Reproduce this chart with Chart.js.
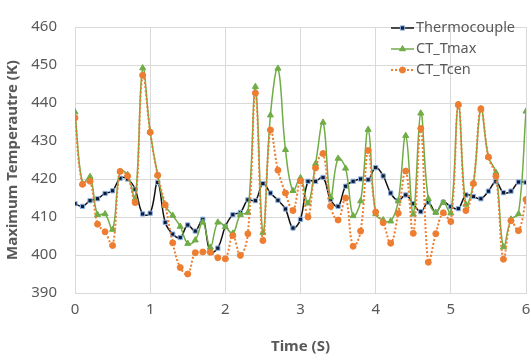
<!DOCTYPE html>
<html>
<head>
<meta charset="utf-8">
<script src="https://cdn.jsdelivr.net/npm/chart.js@4.4.1/dist/chart.umd.min.js"></script>
<style>
  html, body { margin: 0; padding: 0; background: #fff; }
  #wrap { width: 531px; height: 363px; }
</style>
</head>
<body>
<div id="wrap"><canvas id="tempChart" width="531" height="363"></canvas></div>
<script>
const time = [0, 0.1, 0.2, 0.3, 0.4, 0.5, 0.6, 0.7, 0.8, 0.9,
    1, 1.1, 1.2, 1.3, 1.4, 1.5, 1.6, 1.7, 1.8, 1.9,
    2, 2.1, 2.2, 2.3, 2.4, 2.5, 2.6, 2.7, 2.8, 2.9,
    3, 3.1, 3.2, 3.3, 3.4, 3.5, 3.6, 3.7, 3.8, 3.9,
    4, 4.1, 4.2, 4.3, 4.4, 4.5, 4.6, 4.7, 4.8, 4.9,
    5, 5.1, 5.2, 5.3, 5.4, 5.5, 5.6, 5.7, 5.8, 5.9, 6];

const thermocouple = [413.5, 412.8, 414.3, 414.8, 416.2, 416.9, 420.2, 420.0, 417.3, 410.8,
    411.0, 419.1, 408.6, 405.5, 404.6, 407.9, 406.3, 409.4, 400.8, 401.8,
    407.5, 410.6, 411.2, 414.5, 414.3, 418.8, 416.3, 414.4, 412.1, 407.1,
    409.4, 419.4, 419.4, 420.4, 414.6, 412.8, 418.1, 419.4, 420.0, 419.8,
    423.0, 420.8, 416.3, 414.3, 415.8, 413.5, 411.4, 413.9, 411.2, 413.9,
    412.7, 412.2, 415.8, 415.4, 414.8, 416.8, 419.3, 416.4, 416.8, 419.2, 419.1];

const ctTmax = [437.6, 418.8, 420.6, 410.6, 410.8, 406.7, 422.0, 421.1, 414.8, 449.2,
    432.5, 421.0, 413.0, 410.4, 407.5, 403.0, 403.9, 408.6, 402.0, 408.6,
    407.4, 405.7, 410.6, 411.2, 444.3, 405.9, 436.8, 449.1, 427.7, 416.9,
    420.3, 413.6, 424.0, 434.9, 415.2, 425.4, 422.8, 410.3, 414.2, 433.0,
    410.8, 409.2, 408.9, 414.2, 431.4, 410.7, 437.3, 414.8, 411.2, 413.8,
    411.0, 439.6, 413.3, 418.8, 438.4, 425.8, 421.7, 402.1, 409.4, 410.8, 437.8];

const ctTcen = [436.1, 418.6, 419.4, 408.1, 406.1, 402.5, 422.0, 420.8, 413.8, 447.3,
    432.3, 421.0, 413.2, 403.2, 396.7, 395.0, 400.6, 400.8, 400.7, 399.3,
    399.0, 405.1, 399.9, 405.6, 442.6, 403.8, 432.9, 422.3, 416.3, 411.7,
    419.5, 410.0, 422.9, 426.7, 412.8, 409.2, 415.0, 402.3, 406.3, 427.5,
    411.3, 408.5, 403.1, 411.0, 422.1, 405.7, 433.3, 398.1, 405.6, 411.1,
    408.8, 439.6, 411.7, 418.8, 438.5, 425.8, 420.7, 398.9, 409.0, 406.4, 414.6];

const seriesNames = ['Thermocouple', 'CT_Tmax', 'CT_Tcen'];

function toPoints(values) {
    return values.map((v, i) => ({ x: time[i], y: v }));
}

// legend drawn inside the plot, top right, like the Excel original
const insideLegend = {
    id: 'insideLegend',
    afterDraw(chart) {
        const ctx = chart.ctx;
        chart.data.datasets.forEach((ds, i) => {
            const y = 28 + i * 21;
            const x0 = 391, x1 = 414;
            ctx.save();
            ctx.strokeStyle = ds.borderColor;
            ctx.lineWidth = ds.borderWidth;
            ctx.setLineDash(ds.borderDash || []);
            ctx.beginPath();
            ctx.moveTo(x0, y);
            ctx.lineTo(x1, y);
            ctx.stroke();
            ctx.setLineDash([]);
            ctx.fillStyle = ds.pointBackgroundColor;
            ctx.strokeStyle = ds.pointBorderColor;
            ctx.lineWidth = ds.pointBorderWidth;
            Chart.helpers.drawPoint(ctx, {
                pointStyle: ds.pointStyle,
                radius: ds.pointRadius,
                rotation: 0,
                borderWidth: ds.pointBorderWidth
            }, (x0 + x1) / 2, y);
            ctx.fillStyle = '#595959';
            ctx.font = '14.5px "Noto Sans"';
            ctx.textBaseline = 'middle';
            ctx.textAlign = 'left';
            ctx.fillText(ds.label, 416, y);
            ctx.restore();
        });
    }
};

const ctx = document.getElementById('tempChart').getContext('2d');
const tempChart = new Chart(ctx, {
    type: 'line',
    data: {
        datasets: [{
            label: seriesNames[0],
            data: toPoints(thermocouple),
            borderColor: '#111111',
            borderWidth: 1.5,
            pointStyle: 'rect',
            pointRadius: 3,
            pointBackgroundColor: '#0b1a3a',
            pointBorderColor: '#8db3e2',
            pointBorderWidth: 1,
            tension: 0.4,
            order: 2
        },
        {
            label: seriesNames[1],
            data: toPoints(ctTmax),
            borderColor: '#70ad47',
            borderWidth: 1.5,
            pointStyle: 'triangle',
            pointRadius: 3.5,
            pointBackgroundColor: '#70ad47',
            pointBorderColor: '#70ad47',
            pointBorderWidth: 1,
            tension: 0.4,
            order: 1
        },
        {
            label: seriesNames[2],
            data: toPoints(ctTcen),
            borderColor: '#ed7d31',
            borderWidth: 2,
            borderDash: [2, 2],
            pointStyle: 'circle',
            pointRadius: 3,
            pointBackgroundColor: '#ed7d31',
            pointBorderColor: '#ed7d31',
            pointBorderWidth: 1,
            tension: 0.4,
            order: 0
        }]
    },
    options: {
        responsive: false,
        animation: false,
        layout: {
            padding: { left: 0, right: 4, top: 13, bottom: 0 }
        },
        plugins: {
            legend: { display: false },
            tooltip: { enabled: false }
        },
        scales: {
            x: {
                type: 'linear',
                min: 0,
                max: 6,
                ticks: {
                    stepSize: 1,
                    color: '#595959',
                    padding: 8,
                    font: { family: 'Noto Sans', size: 15 }
                },
                grid: { color: '#d9d9d9', drawTicks: false },
                border: { color: '#d9d9d9' },
                title: {
                    display: true,
                    text: 'Time (S)',
                    color: '#595959',
                    font: { family: 'Noto Sans', size: 15, weight: 'bold' },
                    padding: { top: 0, bottom: 7 }
                },
                afterFit(scale) {
                    scale.height = 70;
                    scale.paddingLeft = 0;
                    scale.paddingRight = 0;
                }
            },
            y: {
                min: 390,
                max: 460,
                ticks: {
                    stepSize: 10,
                    color: '#595959',
                    padding: 18,
                    font: { family: 'Noto Sans', size: 15 }
                },
                grid: { color: '#d9d9d9', drawTicks: false },
                border: { color: '#d9d9d9' },
                title: {
                    display: true,
                    text: 'Maximum Temperautre (K)',
                    color: '#595959',
                    font: { family: 'Noto Sans', size: 15, weight: 'bold' },
                    padding: { top: 4, bottom: 0 }
                },
                afterFit(scale) { scale.width = 75; }
            }
        }
    },
    plugins: [insideLegend]
});
</script>
</body>
</html>
